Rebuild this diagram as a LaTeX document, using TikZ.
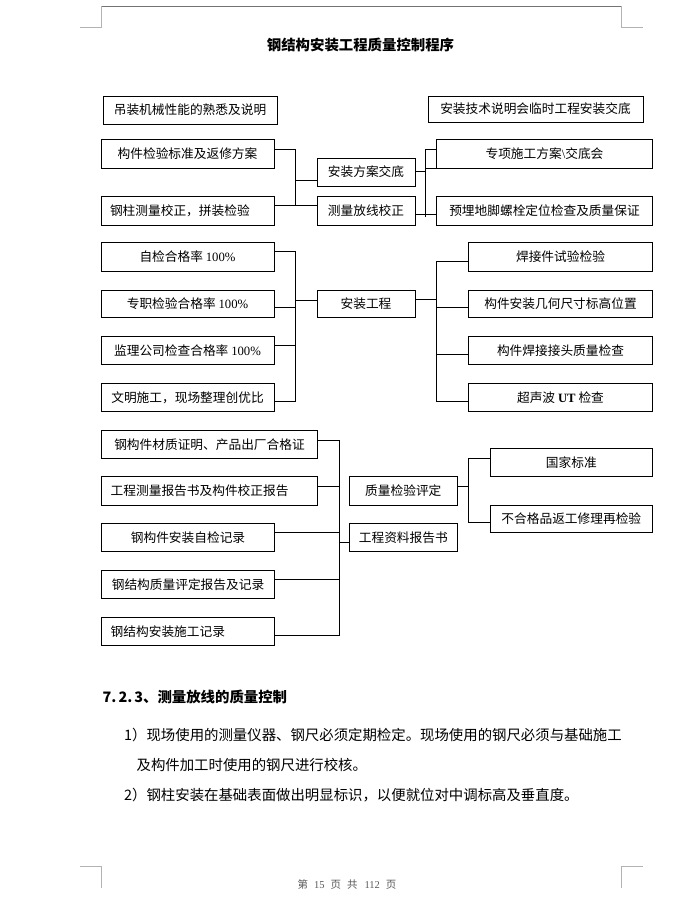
\documentclass[tikz,border=0pt]{standalone}
\usepackage{fontspec}
\setmainfont{Liberation Serif}
\newfontfamily\cjk{Noto Sans CJK SC}
\begin{document}
\begin{tikzpicture}[x=1pt,y=-1pt,
  box/.style={draw, line width=0.9pt, inner sep=0pt, font=\cjk\fontsize{12.7}{14}\selectfont},
  lbox/.style={box, align=left, inner xsep=9pt},
  conn/.style={line width=0.9pt},
  cropdark/.style={line width=0.8pt, draw=black!55},
  croplight/.style={line width=0.8pt, draw=black!30},
  body/.style={anchor=west, inner sep=0pt, font=\cjk\fontsize{14.4}{16}\selectfont}]
\useasboundingbox (0,0) rectangle (700,923);
% page marks
\draw[cropdark] (101.3,6) -- (621.7,6);
\draw[croplight] (80,27.3) -- (101.3,27.3) -- (101.3,6);
\draw[croplight] (621.7,6) -- (621.7,27.3) -- (642.7,27.3);
\draw[croplight] (80,866) -- (101.4,866) -- (101.4,887.5);
\draw[croplight] (642.7,866) -- (621.8,866) -- (621.8,887.5);
% title
\node[inner sep=0pt, font=\cjk\bfseries\fontsize{14.4}{16}\selectfont] (title) at (360.5,44.6) {钢结构安装工程质量控制程序};
% row 1
\node[box, minimum width=174pt, minimum height=28pt] (A1) at (190,110) {吊装机械性能的熟悉及说明};
\node[box, minimum width=215pt, minimum height=26pt] (A2) at (535.5,109) {安装技术说明会临时工程安装交底};
\node[box, minimum width=173pt, minimum height=29pt] (B1) at (187.5,153.5) {构件检验标准及返修方案};
\node[lbox, text width=155pt, minimum height=29pt] (B2) at (187.5,210.5) {钢柱测量校正，拼装检验};
\node[box, minimum width=98pt, minimum height=28pt] (C1) at (366,172) {安装方案交底};
\node[box, minimum width=98pt, minimum height=29pt] (C2) at (366,210.5) {测量放线校正};
\node[box, minimum width=215.6pt, minimum height=29pt] (D1) at (544.5,153.8) {专项施工方案{\rmfamily\textbackslash}交底会};
\node[box, minimum width=215.6pt, minimum height=29pt] (D2) at (544.5,210.5) {预埋地脚螺栓定位检查及质量保证};
\coordinate (p1t) at (295,149);
\coordinate (p1b) at (295,205);
\coordinate (p1m) at (295,180.7);
\draw[conn] (B1.east |- p1t) -- (p1t) -- (p1b);
\draw[conn] (B2.east |- p1b) -- (C2.west |- p1b);
\draw[conn] (p1m) -- (C1.west |- p1m);
\coordinate (q1t) at (425.7,149.3);
\coordinate (q1b) at (425.7,217.3);
\coordinate (q1m) at (425.7,171);
\coordinate (q1c) at (425.7,168.3);
\coordinate (q1d) at (425.7,214.3);
\draw[conn] (q1t) -- (q1b);
\draw[conn] (C1.east |- q1m) -- (q1m);
\draw[conn] (q1t) -- (D1.west |- q1t);
\draw[conn] (q1c) -- (D1.west |- q1c);
\draw[conn] (C2.east |- q1d) -- (D2.west |- q1d);
% row 2
\node[box, minimum width=173pt, minimum height=28.5pt] (E1) at (187.5,256.7) {自检合格率 {\rmfamily 100\%}};
\node[box, minimum width=173pt, minimum height=27.7pt] (E2) at (187.5,303.8) {专职检验合格率 {\rmfamily 100\%}};
\node[box, minimum width=173pt, minimum height=27.7pt] (E3) at (187.5,350.5) {监理公司检查合格率 {\rmfamily 100\%}};
\node[box, minimum width=173pt, minimum height=28.4pt] (E4) at (187.5,397.5) {文明施工，现场整理创优比};
\node[box, minimum width=98pt, minimum height=27.7pt] (F) at (366,303.8) {安装工程};
\node[box, minimum width=184.4pt, minimum height=28.5pt] (G1) at (560.5,256.7) {焊接件试验检验};
\node[box, minimum width=184.4pt, minimum height=27.7pt] (G2) at (560.5,303.8) {构件安装几何尺寸标高位置};
\node[box, minimum width=184.4pt, minimum height=27.7pt] (G3) at (560.5,350.5) {构件焊接接头质量检查};
\node[box, minimum width=184.4pt, minimum height=27.7pt] (G4) at (560.5,397.2) {超声波 {\rmfamily\bfseries UT} 检查};
\coordinate (r1t) at (295.7,251.7);
\coordinate (r1b) at (295.7,401.7);
\coordinate (r1m) at (295.7,300);
\coordinate (r2) at (295.7,307.7);
\coordinate (r3) at (295.7,345);
\draw[conn] (E1.east |- r1t) -- (r1t) -- (r1b) -- (E4.east |- r1b);
\draw[conn] (E2.east |- r2) -- (r2);
\draw[conn] (E3.east |- r3) -- (r3);
\draw[conn] (r1m) -- (F.west |- r1m);
\coordinate (s1t) at (436.7,261.7);
\coordinate (s1b) at (436.7,401.7);
\coordinate (s1m) at (436.7,299.3);
\coordinate (s2) at (436.7,307.7);
\coordinate (s3) at (436.7,354.3);
\draw[conn] (G1.west |- s1t) -- (s1t) -- (s1b) -- (G4.west |- s1b);
\draw[conn] (F.east |- s1m) -- (s1m);
\draw[conn] (s2) -- (G2.west |- s2);
\draw[conn] (s3) -- (G3.west |- s3);
% row 3
\node[box, minimum width=215.6pt, minimum height=28.3pt] (H1) at (209.5,444.2) {钢构件材质证明、产品出厂合格证};
\node[lbox, text width=197.6pt, minimum height=28.3pt] (H2) at (209.5,490.8) {工程测量报告书及构件校正报告};
\node[box, minimum width=172.6pt, minimum height=28.3pt] (H3) at (188,537.5) {钢构件安装自检记录};
\node[box, minimum width=172.6pt, minimum height=28.3pt] (H4) at (188,584.2) {钢结构质量评定报告及记录};
\node[lbox, text width=154.6pt, minimum height=28pt] (H5) at (188,631.7) {钢结构安装施工记录};
\node[box, minimum width=108pt, minimum height=28.3pt] (I1) at (403.3,490.8) {质量检验评定};
\node[box, minimum width=108pt, minimum height=28.3pt] (I2) at (403.3,537.5) {工程资料报告书};
\node[box, minimum width=162.7pt, minimum height=27.7pt] (J1) at (571.3,462.2) {国家标准};
\node[box, minimum width=162.7pt, minimum height=27.7pt] (J2) at (571.3,518.8) {不合格品返工修理再检验};
\coordinate (t1t) at (339.3,440);
\coordinate (t1b) at (339.3,635.7);
\coordinate (t2) at (339.3,486);
\coordinate (t3) at (339.3,532.7);
\coordinate (t4) at (339.3,579);
\coordinate (t5) at (339.3,542.3);
\draw[conn] (H1.east |- t1t) -- (t1t) -- (t1b) -- (H5.east |- t1b);
\draw[conn] (H2.east |- t2) -- (t2);
\draw[conn] (H3.east |- t3) -- (t3);
\draw[conn] (H4.east |- t4) -- (t4);
\draw[conn] (t5) -- (I2.west |- t5);
\coordinate (u1t) at (468,458.3);
\coordinate (u1b) at (468,522.7);
\coordinate (u1m) at (468,486.7);
\draw[conn] (J1.west |- u1t) -- (u1t) -- (u1b) -- (J2.west |- u1b);
\draw[conn] (I1.east |- u1m) -- (u1m);
% text section
\node[body, font=\cjk\bfseries\fontsize{14.4}{16}\selectfont] (h) at (102.5,696.8) {7.\hspace{2pt}2.\hspace{2pt}3、测量放线的质量控制};
\node[body] (l1) at (124,735.4) {1）现场使用的测量仪器、钢尺必须定期检定。现场使用的钢尺必须与基础施工};
\node[body] (l2) at (136.4,764.6) {及构件加工时使用的钢尺进行校核。};
\node[body] (l3) at (124,795) {2）钢柱安装在基础表面做出明显标识，以便就位对中调标高及垂直度。};
% footer
\node[inner sep=0pt, text=black!65, font=\cjk\fontsize{10.5}{12}\selectfont] (foot) at (347,884.6) {第\hspace{6pt}{\rmfamily 15}\hspace{6pt}页\hspace{6pt}共\hspace{7pt}{\rmfamily 112}\hspace{6pt}页};
\end{tikzpicture}
\end{document}
